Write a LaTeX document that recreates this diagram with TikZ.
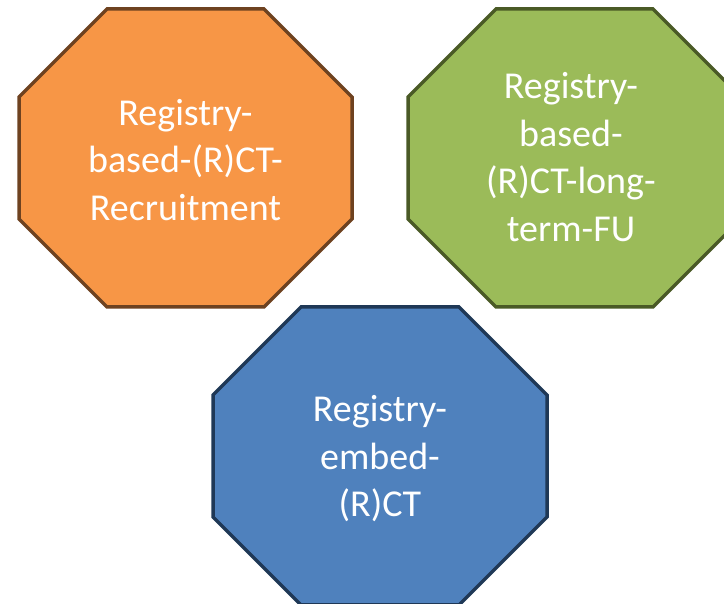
\documentclass[tikz,border=0pt]{standalone}
\usepackage{fontspec}
\setmainfont{Carlito}
\definecolor{orfill}{HTML}{F79646}
\definecolor{ordraw}{HTML}{6E4220}
\definecolor{grfill}{HTML}{9BBB59}
\definecolor{grdraw}{HTML}{4A5A26}
\definecolor{blfill}{HTML}{4F81BD}
\definecolor{bldraw}{HTML}{1F3856}
\tikzset{
  octa/.style={line width=3.5pt, line join=miter},
  label/.style={text=white, align=center, font=\fontsize{38}{47.5}\selectfont, inner sep=0pt}
}
% octagon: left x, top y (from top), width, height, corner cut
\newcommand{\octagon}[6]{%
  \path[octa,#6] (#1+#5,604-#2) -- (#1+#3-#5,604-#2) -- (#1+#3,604-#2-#5)
    -- (#1+#3,604-#2-#4+#5) -- (#1+#3-#5,604-#2-#4) -- (#1+#5,604-#2-#4)
    -- (#1,604-#2-#4+#5) -- (#1,604-#2-#5) -- cycle;}
\begin{document}
\begin{tikzpicture}[x=1pt,y=1pt]
  \useasboundingbox (0,0) rectangle (724,604);
  \clip (0,0) rectangle (724,604);
  \octagon{19}{9}{333}{298}{88}{fill=orfill,draw=ordraw}
  \octagon{408}{9}{333}{298}{88}{fill=grfill,draw=grdraw}
  \octagon{213}{307}{334}{298}{88}{fill=blfill,draw=bldraw}
  \node[label] (recruit) at (185.5,604-160) {Registry-\\based-(R)CT-\\Recruitment};
  \node[label] (longfu) at (571,604-157) {Registry-\\based-\\(R)CT-long-\\term-FU};
  \node[label] (embed) at (380,604-459) {Registry-\\embed-\\(R)CT};
\end{tikzpicture}
\end{document}
